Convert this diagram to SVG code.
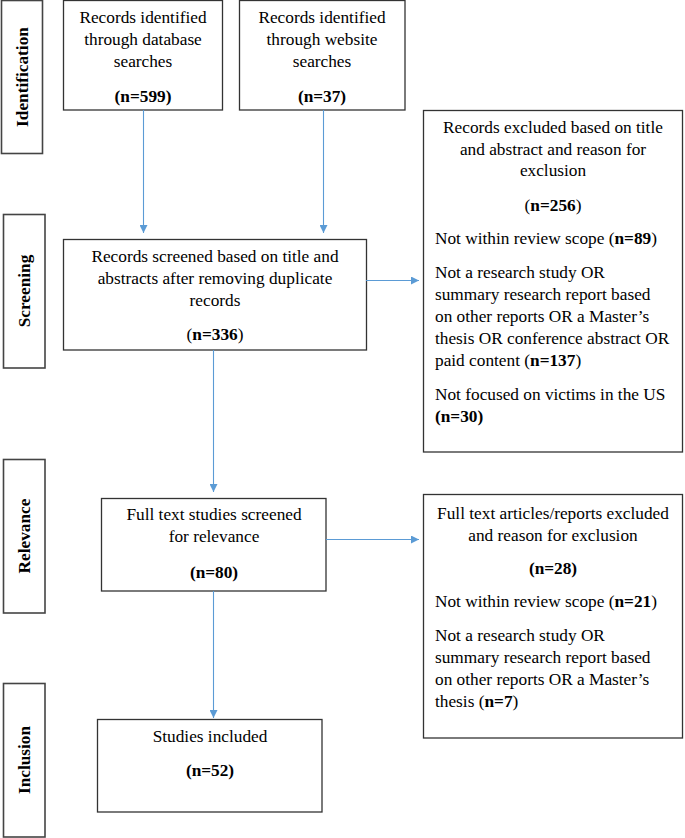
<svg xmlns="http://www.w3.org/2000/svg" width="685" height="838" viewBox="0 0 685 838">
<style>
.box{fill:#fff;stroke:#333;stroke-width:1.3}
.side{fill:#fff;stroke:#444;stroke-width:1.6}
.t{font-family:"Liberation Serif","Times New Roman",serif;font-size:17.3px;fill:#000}
.c{text-anchor:middle}
.b{font-weight:bold}
.lbl{font-family:"Liberation Serif","Times New Roman",serif;font-size:17.3px;font-weight:bold;fill:#000;text-anchor:middle}
.con{stroke:#5b9bd5;stroke-width:1.1;fill:none}
</style>
<defs>
<marker id="ah" markerWidth="8" markerHeight="8" viewBox="0 0 8 8" refX="8" refY="4" orient="auto" markerUnits="userSpaceOnUse">
<path d="M0,0 L8,4 L0,8 Z" fill="#5b9bd5"/>
</marker>
</defs>
<rect width="685" height="838" fill="#fff"/>

<g id="phase-identification">
<rect class="side" x="1.5" y="0.5" width="41" height="153"/>
<text class="lbl" transform="translate(28,77) rotate(-90)">Identification</text>
</g>
<g id="phase-screening">
<rect class="side" x="3.5" y="214.5" width="41.5" height="153.5"/>
<text class="lbl" transform="translate(30,291) rotate(-90)">Screening</text>
</g>
<g id="phase-relevance">
<rect class="side" x="3.5" y="459.5" width="41.5" height="153.5"/>
<text class="lbl" transform="translate(30,536) rotate(-90)">Relevance</text>
</g>
<g id="phase-inclusion">
<rect class="side" x="3.5" y="683.5" width="41.5" height="153.5"/>
<text class="lbl" transform="translate(30,760) rotate(-90)">Inclusion</text>
</g>

<g id="db">
<rect class="box" x="63.5" y="0.5" width="159" height="109.5"/>
<text class="t c" x="143" y="23">Records identified</text>
<text class="t c" x="143" y="45">through database</text>
<text class="t c" x="143" y="67">searches</text>
<text class="t c b" x="143" y="102">(n=599)</text>
</g>

<g id="web">
<rect class="box" x="239.5" y="0.5" width="165.5" height="109.5"/>
<text class="t c" x="322" y="23">Records identified</text>
<text class="t c" x="322" y="45">through website</text>
<text class="t c" x="322" y="67">searches</text>
<text class="t c b" x="322" y="102">(n=37)</text>
</g>

<g id="screened">
<rect class="box" x="63.5" y="239.5" width="303" height="110.5"/>
<text class="t c" x="215" y="262">Records screened based on title and</text>
<text class="t c" x="215" y="284">abstracts after removing duplicate</text>
<text class="t c" x="215" y="306">records</text>
<text class="t c" x="215" y="340">(<tspan class="b">n=336</tspan>)</text>
</g>

<g id="excluded1">
<rect class="box" x="423.5" y="110.5" width="259" height="341.5"/>
<text class="t c" x="553" y="133">Records excluded based on title</text>
<text class="t c" x="553" y="155">and abstract and reason for</text>
<text class="t c" x="553" y="176">exclusion</text>
<text class="t c" x="553" y="211">(<tspan class="b">n=256</tspan>)</text>
<text class="t" x="435" y="244">Not within review scope (<tspan class="b">n=89</tspan>)</text>
<text class="t" x="435" y="278">Not a research study OR</text>
<text class="t" x="435" y="300">summary research report based</text>
<text class="t" x="435" y="322">on other reports OR a Master’s</text>
<text class="t" x="435" y="344">thesis OR conference abstract OR</text>
<text class="t" x="435" y="366">paid content (<tspan class="b">n=137</tspan>)</text>
<text class="t" x="435" y="400">Not focused on victims in the US</text>
<text class="t b" x="435" y="422">(n=30)</text>
</g>

<g id="fulltext">
<rect class="box" x="101.5" y="498.5" width="224.5" height="92.5"/>
<text class="t c" x="214" y="520">Full text studies screened</text>
<text class="t c" x="214" y="542">for relevance</text>
<text class="t c b" x="214" y="578">(n=80)</text>
</g>

<g id="excluded2">
<rect class="box" x="423.5" y="494.5" width="259" height="243.5"/>
<text class="t c" x="553" y="519">Full text articles/reports excluded</text>
<text class="t c" x="553" y="541">and reason for exclusion</text>
<text class="t c b" x="553" y="574">(n=28)</text>
<text class="t" x="435" y="607">Not within review scope (<tspan class="b">n=21</tspan>)</text>
<text class="t" x="435" y="641">Not a research study OR</text>
<text class="t" x="435" y="663">summary research report based</text>
<text class="t" x="435" y="685">on other reports OR a Master’s</text>
<text class="t" x="435" y="707">thesis (<tspan class="b">n=7</tspan>)</text>
</g>

<g id="included">
<rect class="box" x="97.5" y="719.5" width="224.5" height="92.5"/>
<text class="t c" x="210" y="742">Studies included</text>
<text class="t c b" x="210" y="776">(n=52)</text>
</g>

<g id="connectors">
<line class="con" x1="143.5" y1="110" x2="143.5" y2="233" marker-end="url(#ah)"/>
<line class="con" x1="323.5" y1="110" x2="323.5" y2="233" marker-end="url(#ah)"/>
<line class="con" x1="366" y1="280.5" x2="419" y2="280.5" marker-end="url(#ah)"/>
<line class="con" x1="213.5" y1="350" x2="213.5" y2="492" marker-end="url(#ah)"/>
<line class="con" x1="326" y1="539.5" x2="419" y2="539.5" marker-end="url(#ah)"/>
<line class="con" x1="213.5" y1="591" x2="213.5" y2="718" marker-end="url(#ah)"/>
</g>
</svg>
